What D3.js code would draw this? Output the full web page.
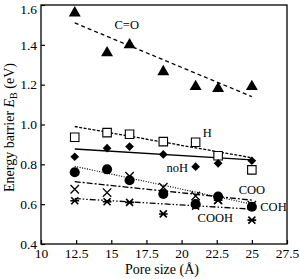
<!DOCTYPE html>
<html>
<head>
<meta charset="utf-8">
<script src="https://cdn.jsdelivr.net/npm/d3@7"></script>
<style>
  body { margin: 0; background: #fff; }
  svg text { font-family: "Liberation Serif", "Times New Roman", "DejaVu Serif", serif; fill: #000; }
</style>
</head>
<body>
<div id="chart"></div>
<script>
// pore sizes (x) and barrier energies per functional group
var poreSize = [12.4, 14.7, 16.3, 18.7, 21.0, 22.6, 25.0]
var eCO   = [1.56, 1.36, 1.40, 1.265, 1.19, 1.18, 1.19]
var eH    = [0.936, 0.959, 0.951, 0.914, 0.911, 0.843, 0.772]
var eNoH  = [0.838, 0.881, 0.889, 0.85, 0.788, 0.805, 0.818]
var eCOH  = [0.76, 0.775, 0.72, 0.651, 0.60, 0.638, 0.587]
var eCOO  = [0.675, 0.658, 0.74, 0.685, 0.641, 0.621, 0.595]
var eCOOH = [0.617, 0.612, 0.609, 0.551, 0.59, 0.62, 0.52]

// trend lines: value at first and last pore size
var trendX = [12.4, 25.0]
var trendCO   = [1.51, 1.14]
var trendH    = [0.99, 0.833]
var trendNoH  = [0.877, 0.822]
var trendCOH  = [0.79, 0.60]
var trendCOO  = [0.713, 0.62]
var trendCOOH = [0.628, 0.575]

var xTicks = [10, 12.5, 15, 17.5, 20, 22.5, 25, 27.5]
var yTicks = [0.4, 0.6, 0.8, 1.0, 1.2, 1.4, 1.6]

var FONT = '"Liberation Serif", "Times New Roman", serif'
var W = 299, H = 279
var margin = {left: 41, top: 5, right: 12, bottom: 35}
var iw = W - margin.left - margin.right
var ih = H - margin.top - margin.bottom

var svg = d3.select('#chart').append('svg')
    .attr('width', W).attr('height', H)

svg.append('rect').attr('width', W).attr('height', H).attr('fill', '#fff')

var g = svg.append('g').attr('transform', 'translate(' + margin.left + ',' + margin.top + ')')

var x = d3.scaleLinear().domain([10, 27.5]).range([0, iw])
var y = d3.scaleLinear().domain([0.4, 1.6]).range([ih, 0])

// axes, ticks pointing inward
var xAxis = g.append('g').attr('transform', 'translate(0,' + ih + ')')
    .call(d3.axisBottom(x).tickValues(xTicks).tickFormat(function(d) { return d })
        .tickSizeInner(-4).tickSizeOuter(0).tickPadding(4))
var yAxis = g.append('g')
    .call(d3.axisLeft(y).tickValues(yTicks).tickFormat(d3.format('.1f'))
        .tickSizeInner(-4).tickSizeOuter(0).tickPadding(4))

;[xAxis, yAxis].forEach(function(a) {
    a.attr('font-family', FONT)
    a.selectAll('text').style('font-size', '13.5px').style('font-family', FONT)
    a.selectAll('line').attr('stroke', '#000').attr('stroke-width', 1.2)
    a.select('.domain').attr('stroke', 'none')
})
// keep the top label inside the picture
yAxis.selectAll('.tick text').filter(function(d) { return d === 1.6 }).attr('dy', '0.6em')

g.append('rect').attr('width', iw).attr('height', ih)
    .attr('fill', 'none').attr('stroke', '#000').attr('stroke-width', 1.3)

// trend lines
var trends = [
    {v: trendCO, dash: '4,3', w: 1.3},
    {v: trendH, dash: '3,1.5', w: 1.3},
    {v: trendNoH, dash: null, w: 1.3},
    {v: trendCOH, dash: '1,1.5', w: 1.2},
    {v: trendCOO, dash: '6,2,2,2', w: 1.3},
    {v: trendCOOH, dash: '6,2,1.5,2,1.5,2', w: 1.3}
]
var line = d3.line().x(function(d) { return x(d[0]) }).y(function(d) { return y(d[1]) })
trends.forEach(function(t) {
    g.append('path')
        .attr('d', line(trendX.map(function(px, i) { return [px, t.v[i]] })))
        .attr('fill', 'none').attr('stroke', '#000').attr('stroke-width', t.w)
        .attr('stroke-dasharray', t.dash)
})

// markers
function xy(vals) { return poreSize.map(function(p, i) { return [x(p), y(vals[i])] }) }

function addSymbol(vals, type, size, filled, rot) {
    g.selectAll(null).data(xy(vals)).enter().append('path')
        .attr('d', d3.symbol().type(type).size(size))
        .attr('transform', function(d) { return 'translate(' + d[0] + ',' + d[1] + ')' + (rot ? ' rotate(' + rot + ')' : '') })
        .attr('fill', filled ? '#000' : '#fff')
        .attr('stroke', '#000').attr('stroke-width', filled ? 0 : 1.1)
}

function crossPath(r, withBar) {
    var p = 'M' + (-r) + ',' + (-r) + 'L' + r + ',' + r + 'M' + (-r) + ',' + r + 'L' + r + ',' + (-r)
    if (withBar) p += 'M' + (-r * 1.25) + ',0L' + (r * 1.25) + ',0'
    return p
}

addSymbol(eCO, d3.symbolTriangle, 62, true)
addSymbol(eH, d3.symbolSquare, 72, false)
addSymbol(eNoH, d3.symbolSquare, 38, true, 45)
addSymbol(eCOH, d3.symbolCircle, 80, true)

g.selectAll(null).data(xy(eCOO)).enter().append('path')
    .attr('d', crossPath(4.2, false))
    .attr('transform', function(d) { return 'translate(' + d[0] + ',' + d[1] + ')' })
    .attr('stroke', '#000').attr('stroke-width', 1.3).attr('fill', 'none')

g.selectAll(null).data(xy(eCOOH)).enter().append('path')
    .attr('d', crossPath(3.5, true))
    .attr('transform', function(d) { return 'translate(' + d[0] + ',' + d[1] + ')' })
    .attr('stroke', '#000').attr('stroke-width', 1.6).attr('fill', 'none')

// series labels
var labels = [
    {t: 'C=O', px: 16.1, v: 1.50},
    {t: 'H', px: 21.5, v: 0.958},
    {t: 'noH', px: 19.7, v: 0.782},
    {t: 'COO', px: 25.0, v: 0.672},
    {t: 'COH', px: 25.6, v: 0.59},
    {t: 'COOH', px: 22.4, v: 0.53}
]
g.selectAll(null).data(labels).enter().append('text')
    .attr('x', function(d) { return x(d.px) })
    .attr('y', function(d) { return y(d.v) })
    .attr('dy', '0.35em')
    .attr('text-anchor', function(d) { return d.t === 'H' || d.t === 'COH' ? 'start' : 'middle' })
    .style('font-size', '12.5px').style('font-family', FONT)
    .text(function(d) { return d.t })

// axis titles
svg.append('text')
    .attr('x', margin.left + iw / 2 - 2).attr('y', 274)
    .attr('text-anchor', 'middle').style('font-size', '14px').style('font-family', FONT)
    .text('Pore size (Å)')

var yt = svg.append('text')
    .attr('transform', 'translate(14,' + (margin.top + ih / 2 + 3) + ') rotate(-90)')
    .attr('text-anchor', 'middle').style('font-size', '14px').style('font-family', FONT)
yt.append('tspan').text('Energy barrier ')
yt.append('tspan').style('font-style', 'italic').text('E')
yt.append('tspan').attr('dy', 3).style('font-size', '10px').text('B')
yt.append('tspan').attr('dy', -3).text(' (eV)')
</script>
</body>
</html>
